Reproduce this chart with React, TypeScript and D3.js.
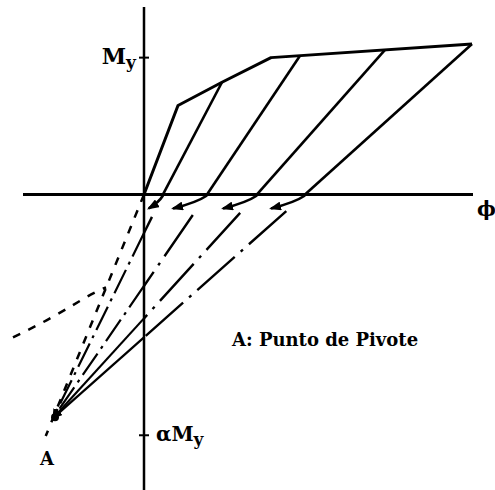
import React from "react";
import * as d3 from "d3";

const W = 495;
const H = 490;

// Moment–curvature model (φ, M / My)
const backbone: [number, number][] = [
  [0, 0],
  [0.34, 0.65],
  [0.78, 0.82],
  [1.27, 1.0],
  [3.28, 1.1],
];
// unloading branches: start on the backbone, end on the φ axis
const unloadStart: [number, number][] = [
  [0.78, 0.82],
  [1.56, 1.014],
  [2.41, 1.056],
  [3.28, 1.1],
];
const unloadEnd = [0.19, 0.63, 1.13, 1.61];
// pivot point A
const pivot: [number, number] = [-0.91, -1.635];
const yieldLevel = 1.0;
const alphaLevel = -1.76;
// negative-side loading curve (dashed)
const negCurve: [number, number][] = [
  [-1.31, -1.044],
  [-0.92, -0.898],
  [-0.58, -0.752],
  [-0.38, -0.679],
];
const legendText = "A: Punto de Pivote";
const pivotLabel = "A";
const axisLabel = "\u03d5";

const FONT = "'DejaVu Serif', 'Liberation Serif', serif";

export default function App() {
  const x = d3.scaleLinear().domain([-1.21, 3.29]).range([23, 473]);
  const y = d3.scaleLinear().domain([-2.16, 1.37]).range([490, 7]);

  const line = d3
    .line<[number, number]>()
    .x((d) => x(d[0]))
    .y((d) => y(d[1]));
  const curve = d3
    .line<[number, number]>()
    .x((d) => x(d[0]))
    .y((d) => y(d[1]))
    .curve(d3.curveNatural);

  const x0 = x(0);
  const y0 = y(0);
  const ax = x(pivot[0]);
  const ay = y(pivot[1]);

  // reloading lines from each axis crossing towards the pivot
  const reload = unloadEnd.map((p, i) => {
    const px = x(p);
    const py = y0;
    const len = Math.hypot(ax - px, ay - py);
    const ux = (ax - px) / len;
    const uy = (ay - py) / len;
    const sx = px + ux * 25;
    const sy = py + uy * 25;
    // crossing with the M axis
    const t = (x0 - px) / (ax - px);
    const cx = x0;
    const cy = py + t * (ay - py);
    return { i, sx, sy, cx, cy };
  });

  // curved arrows just below the φ axis
  const arrows = unloadEnd.map((p) => {
    const sx = x(p);
    const sy = y0 + 1;
    const dx = -Math.min((sx - x0) * 0.75, 34);
    const ex = sx + dx;
    const ey = y0 + 14;
    const qx = sx + dx * 0.3;
    const qy = y0 + 8;
    return `M${sx},${sy} Q${qx},${qy} ${ex},${ey}`;
  });

  // origin-to-pivot dashed line, slightly extended beyond A
  const ext = 1.08;
  const originLine: [number, number][] = [
    [0, 0],
    [pivot[0] * ext, pivot[1] * ext],
  ];

  return (
    <svg
      width={W}
      height={H}
      style={{ position: "absolute", left: 0, top: 0, background: "#fff" }}
    >
      <defs>
        <marker
          id="head"
          viewBox="0 0 12 9"
          refX="10"
          refY="4.5"
          markerWidth="12"
          markerHeight="9"
          markerUnits="userSpaceOnUse"
          orient="auto"
        >
          <path d="M0,0 L12,4.5 L0,9 z" fill="#000" />
        </marker>
        <marker
          id="pivotHead"
          viewBox="0 0 10 8"
          refX="9"
          refY="4"
          markerWidth="10"
          markerHeight="8"
          markerUnits="userSpaceOnUse"
          orient="auto"
        >
          <path d="M0,0 L10,4 L0,8 z" fill="#000" />
        </marker>
      </defs>

      {/* axes */}
      <line
        x1={x.range()[0]}
        x2={x.range()[1]}
        y1={y0}
        y2={y0}
        stroke="#000"
        strokeWidth={3}
      />
      <line
        x1={x0}
        x2={x0}
        y1={y.range()[1]}
        y2={y.range()[0]}
        stroke="#000"
        strokeWidth={2.5}
      />
      {/* ticks */}
      {[yieldLevel, alphaLevel].map((v) => (
        <line
          key={v}
          x1={x0 - 5}
          x2={x0 + 5}
          y1={y(v)}
          y2={y(v)}
          stroke="#000"
          strokeWidth={2}
        />
      ))}

      {/* backbone and unloading branches */}
      <path
        d={line(backbone) ?? ""}
        fill="none"
        stroke="#000"
        strokeWidth={3}
        strokeLinejoin="round"
      />
      {unloadStart.map((s, i) => (
        <path
          key={i}
          d={line([s, [unloadEnd[i], 0]]) ?? ""}
          fill="none"
          stroke="#000"
          strokeWidth={2.6}
        />
      ))}

      {/* arrows */}
      {arrows.map((d, i) => (
        <path
          key={i}
          d={d}
          fill="none"
          stroke="#000"
          strokeWidth={2.6}
          markerEnd="url(#head)"
        />
      ))}

      {/* negative branch (dashed) */}
      <path
        d={curve(negCurve) ?? ""}
        fill="none"
        stroke="#000"
        strokeWidth={2.5}
        strokeDasharray="8 9"
      />
      <path
        d={line(originLine) ?? ""}
        fill="none"
        stroke="#000"
        strokeWidth={2.5}
        strokeDasharray="8 9"
      />

      {/* reloading lines towards pivot */}
      {reload.map((r) => (
        <g key={r.i}>
          <line
            x1={r.sx}
            y1={r.sy}
            x2={r.cx}
            y2={r.cy}
            stroke="#000"
            strokeWidth={2.4}
            strokeDasharray="50 8 3 8"
          />
          <line
            x1={r.cx}
            y1={r.cy}
            x2={ax}
            y2={ay}
            stroke="#000"
            strokeWidth={2.2}
            strokeDasharray={r.i < 2 ? "26 6 3 6" : undefined}
            markerEnd="url(#pivotHead)"
          />
        </g>
      ))}
      <circle cx={ax + 2} cy={ay - 1} r={4} fill="#000" />

      {/* labels */}
      <text
        x={x0 - 8}
        y={y(yieldLevel) + 6}
        textAnchor="end"
        fontFamily={FONT}
        fontWeight="bold"
        fontSize={22}
      >
        M
        <tspan fontSize={17} dy={4}>
          y
        </tspan>
      </text>
      <text
        x={x0 + 12}
        y={y(alphaLevel) + 6}
        fontFamily={FONT}
        fontWeight="bold"
        fontSize={20}
      >
        {"\u03b1"}M
        <tspan fontSize={17} dy={4}>
          y
        </tspan>
      </text>
      <text
        x={x.range()[1] + 4}
        y={y0 + 22}
        fontFamily={FONT}
        fontWeight="bold"
        fontSize={20}
      >
        {axisLabel}
      </text>
      <text
        x={ax - 6}
        y={ay + 47}
        textAnchor="middle"
        fontFamily={FONT}
        fontWeight="bold"
        fontSize={18}
      >
        {pivotLabel}
      </text>
      <text
        x={x(0.88)}
        y={y(-1.11)}
        fontFamily={FONT}
        fontWeight="bold"
        fontSize={18}
      >
        {legendText}
      </text>
    </svg>
  );
}
